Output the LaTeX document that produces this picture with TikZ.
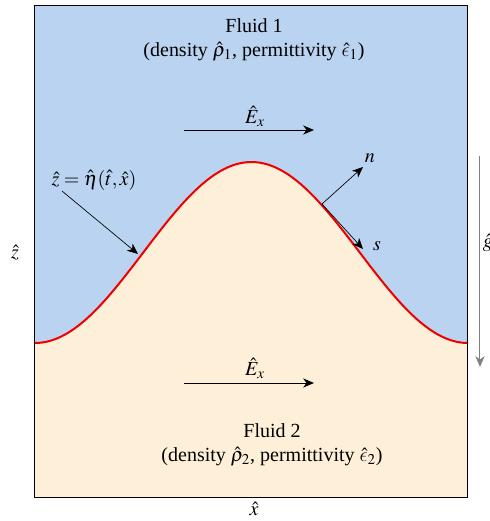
\documentclass[tikz,border=0pt]{standalone}
\usepackage{mathptmx}
\usepackage[no-math]{fontspec}
\setmainfont{Liberation Serif}
\DeclareSymbolFont{cmletters}{OML}{cmm}{m}{it}
\DeclareMathSymbol{\lunateps}{\mathord}{cmletters}{"0F}
\usepackage{tikz}
\usetikzlibrary{positioning, arrows.meta, calc}
\definecolor{FluidTop}{HTML}{BAD3F0}
\definecolor{FluidBot}{HTML}{FEF0D8}
\definecolor{Interface}{HTML}{EE0000}
\definecolor{GravGray}{HTML}{808080}

\begin{document}
\begin{tikzpicture}[
  x=0.6pt, y=-0.6pt,
  >={Stealth[length=6.5pt, width=5.5pt, inset=2pt]},
  fieldarr/.style={->, line width=0.6pt, color=black},
  thinarr/.style={->, line width=0.4pt, color=black},
  lbl/.style={font=\fontsize{12}{14.4}\selectfont, inner sep=1pt, align=center},
]
  \useasboundingbox (0,0) rectangle (490,521);

  %% fluid regions
  \fill[FluidTop] (35,5) rectangle (468,497);
  \fill[FluidBot] plot[domain=35:468, samples=120]
      (\x, {252.5-90.5*cos(0.83141*(\x-251.5))}) -- (468,497) -- (35,497) -- cycle;
  \draw[Interface, line width=1.2pt] plot[domain=35:468, samples=120]
      (\x, {252.5-90.5*cos(0.83141*(\x-251.5))});
  \draw[line width=0.6pt] (35,5) rectangle (468,497);

  % Fluid 1: top
  \node[lbl] (F1) at (254,40)
    {Fluid 1\\ (density $\hat{\rho}_1$, permittivity $\hat{\lunateps}_1$)};

  % Fluid 2: bottom
  \node[lbl] (F2) at (272,445)
    {Fluid 2\\ (density $\hat{\rho}_2$, permittivity $\hat{\lunateps}_2$)};

  %% applied field, above and below
  \coordinate (Ea) at (184,130);
  \coordinate (Eb) at (314,130);
  \draw[fieldarr] (Ea) -- (Eb);
  \node[lbl] (Etop) at (255,116) {$\hat{E}_x$};

  \coordinate (Ec) at (184,383);
  \coordinate (Ed) at (314,383);
  \draw[fieldarr] (Ec) -- (Ed);
  \node[lbl] (Ebot) at (255,368) {$\hat{E}_x$};

  %% interface label
  \node[lbl] (eta) at (94,180) {$\hat{z}=\hat{\eta}(\hat{t},\hat{x})$};
  \coordinate (etaTip) at (138,254);
  \draw[thinarr] (62,191) -- (etaTip);

  %% normal and tangent at the interface
  \coordinate (P) at (322,204);
  \node[lbl] (n) at (370,158) {$n$};
  \node[lbl] (s) at (377,246) {$s$};
  \draw[thinarr] (P) -- (363,167);
  \draw[thinarr] (P) -- (363,249);

  %% gravity
  \coordinate (g1) at (480,156);
  \coordinate (g2) at (480,367);
  \draw[->, line width=0.6pt, color=GravGray] (g1) -- (g2);
  \node[lbl] (g) at (488,243) {$\hat{g}$};

  %% axes
  \node[lbl] (zax) at (15,253) {$\hat{z}$};
  \node[lbl] (xax) at (254,509) {$\hat{x}$};

\end{tikzpicture}
\end{document}
